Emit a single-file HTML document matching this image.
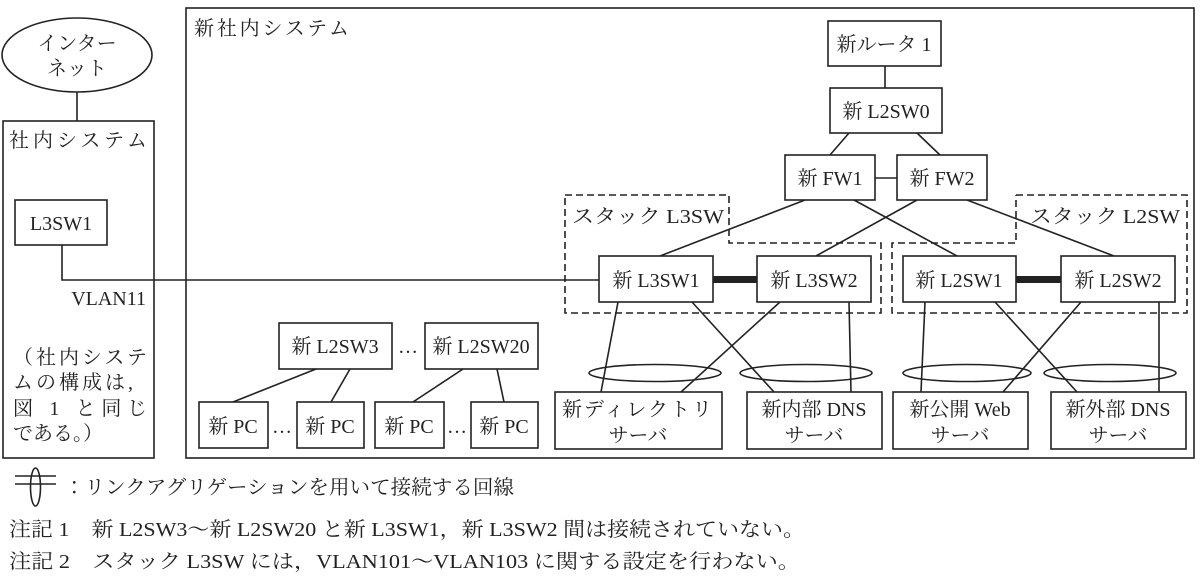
<!DOCTYPE html>
<html><head><meta charset="utf-8"><style>
html,body{margin:0;padding:0;background:#fff;}
svg{display:block;}
text{font-family:"Liberation Serif","Noto Serif CJK JP","Noto Sans CJK JP",serif;font-size:20px;fill:#222;}
</style></head><body>
<svg width="1200" height="580" viewBox="0 0 1200 580" xmlns="http://www.w3.org/2000/svg">
<g stroke="#222" stroke-width="1.6" fill="none">
<ellipse cx="77" cy="55" rx="75" ry="37"/>
<line x1="77" y1="92" x2="77" y2="121"/>
<rect x="3" y="121" width="151" height="337"/>
<rect x="15" y="200" width="92" height="45"/>
<polyline points="62,245 62,280 599,280"/>
<rect x="186" y="8" width="1008" height="450"/>
<rect x="828" y="21" width="113" height="45"/>
<line x1="885" y1="66" x2="885" y2="88"/>
<rect x="830" y="88" width="112" height="45"/>
<line x1="849" y1="133" x2="830" y2="155"/>
<line x1="917" y1="133" x2="940" y2="155"/>
<rect x="785" y="155" width="90" height="45"/>
<rect x="897" y="155" width="90" height="45"/>
<line x1="875" y1="178" x2="897" y2="178"/>
<line x1="805" y1="200" x2="660" y2="256"/>
<line x1="854" y1="200" x2="957" y2="256"/>
<line x1="917" y1="200" x2="816" y2="256"/>
<line x1="967" y1="200" x2="1114" y2="256"/>
<polyline stroke-dasharray="7,4" points="565,195 729,195 729,243 881,243 881,313 565,313 565,195"/>
<polyline stroke-dasharray="7,4" points="1016,195 1187,195 1187,313 892,313 892,243 1016,243 1016,195"/>
<rect x="599" y="256" width="114" height="46"/>
<rect x="757" y="256" width="114" height="46"/>
<rect x="903" y="256" width="113" height="46"/>
<rect x="1061" y="256" width="114" height="46"/>
<line x1="618" y1="302" x2="601" y2="392"/>
<line x1="692" y1="302" x2="774" y2="392"/>
<line x1="780" y1="302" x2="681" y2="392"/>
<line x1="849" y1="302" x2="851" y2="392"/>
<line x1="925" y1="302" x2="921" y2="392"/>
<line x1="995" y1="302" x2="1077" y2="392"/>
<line x1="1081" y1="302" x2="1003" y2="392"/>
<line x1="1159" y1="302" x2="1159" y2="392"/>
<ellipse cx="655" cy="373" rx="66" ry="8.5"/>
<ellipse cx="806" cy="373" rx="66" ry="8.5"/>
<ellipse cx="967" cy="373" rx="64" ry="8.5"/>
<ellipse cx="1110" cy="373" rx="66" ry="8.5"/>
<rect x="555" y="392" width="167" height="57"/>
<rect x="747" y="392" width="135" height="57"/>
<rect x="893" y="392" width="135" height="57"/>
<rect x="1051" y="392" width="135" height="57"/>
<rect x="279" y="323" width="113" height="46"/>
<rect x="425" y="323" width="113" height="46"/>
<line x1="316" y1="369" x2="233" y2="402"/>
<line x1="350" y1="369" x2="331" y2="402"/>
<line x1="463" y1="369" x2="413" y2="402"/>
<line x1="497" y1="369" x2="504" y2="402"/>
<rect x="199" y="402" width="69" height="46"/>
<rect x="297" y="402" width="67" height="46"/>
<rect x="375" y="402" width="69" height="46"/>
<rect x="471" y="402" width="67" height="46"/>
<line x1="15" y1="476" x2="56" y2="476"/>
<line x1="15" y1="484" x2="56" y2="484"/>
<ellipse cx="35.5" cy="487" rx="5" ry="19"/>
</g>
<g fill="#222">
<rect x="713" y="276" width="44" height="7"/>
<rect x="1016" y="276" width="45" height="7"/>
</g>
<text x="77" y="50" text-anchor="middle">インター</text>
<text x="77" y="75" text-anchor="middle">ネット</text>
<text x="9" y="147" textLength="138">社内システム</text>
<text x="61" y="230" text-anchor="middle">L3SW1</text>
<text x="146" y="305" text-anchor="end">VLAN11</text>
<text x="13" y="364" textLength="134">（社内システ</text>
<text x="13" y="389" textLength="120">ムの構成は,</text>
<text x="13" y="415" textLength="134">図 1 と同じ</text>
<text x="13" y="440" textLength="90">である。）</text>
<text x="194" y="35" textLength="155">新社内システム</text>
<text x="884" y="51" text-anchor="middle">新ルータ 1</text>
<text x="886" y="118" text-anchor="middle">新 L2SW0</text>
<text x="830" y="185" text-anchor="middle">新 FW1</text>
<text x="942" y="185" text-anchor="middle">新 FW2</text>
<text x="572" y="223" textLength="152" lengthAdjust="spacingAndGlyphs">スタック L3SW</text>
<text x="1030" y="223" textLength="150" lengthAdjust="spacingAndGlyphs">スタック L2SW</text>
<text x="656" y="287" text-anchor="middle">新 L3SW1</text>
<text x="814" y="287" text-anchor="middle">新 L3SW2</text>
<text x="959" y="287" text-anchor="middle">新 L2SW1</text>
<text x="1118" y="287" text-anchor="middle">新 L2SW2</text>
<text x="562" y="416" textLength="150">新ディレクトリ</text>
<text x="638" y="442" text-anchor="middle">サーバ</text>
<text x="814" y="416" text-anchor="middle">新内部 DNS</text>
<text x="814" y="442" text-anchor="middle">サーバ</text>
<text x="960" y="416" text-anchor="middle">新公開 Web</text>
<text x="960" y="442" text-anchor="middle">サーバ</text>
<text x="1118" y="416" text-anchor="middle">新外部 DNS</text>
<text x="1118" y="442" text-anchor="middle">サーバ</text>
<text x="335" y="353" text-anchor="middle">新 L2SW3</text>
<text x="408" y="353" text-anchor="middle">…</text>
<text x="481" y="353" text-anchor="middle">新 L2SW20</text>
<text x="233" y="433" text-anchor="middle">新 PC</text>
<text x="282" y="433" text-anchor="middle">…</text>
<text x="330" y="433" text-anchor="middle">新 PC</text>
<text x="409" y="433" text-anchor="middle">新 PC</text>
<text x="457" y="433" text-anchor="middle">…</text>
<text x="504" y="433" text-anchor="middle">新 PC</text>
<text x="64" y="494" textLength="450" lengthAdjust="spacingAndGlyphs">：リンクアグリゲーションを用いて接続する回線</text>
<text x="9" y="536" textLength="796" lengthAdjust="spacingAndGlyphs">注記 1　新 L2SW3～新 L2SW20 と新 L3SW1，新 L3SW2 間は接続されていない。</text>
<text x="9" y="568" textLength="791" lengthAdjust="spacingAndGlyphs">注記 2　スタック L3SW には，VLAN101～VLAN103 に関する設定を行わない。</text>
</svg>
</body></html>
